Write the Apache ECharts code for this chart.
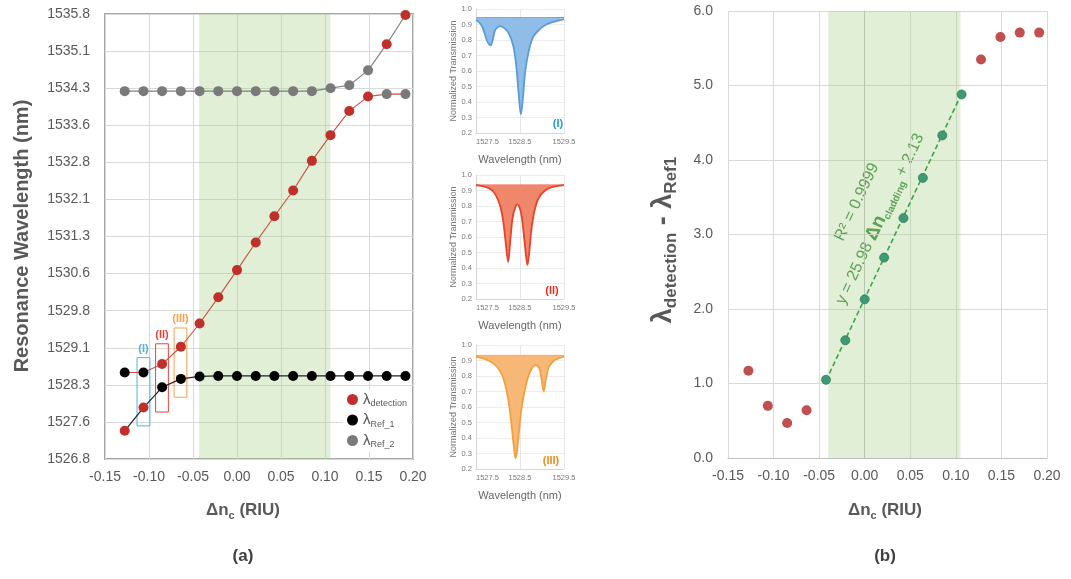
<!DOCTYPE html>
<html>
<head>
<meta charset="utf-8">
<script src="https://cdn.jsdelivr.net/npm/echarts@6/dist/echarts.min.js"></script>
<style>
html,body{margin:0;padding:0;background:#fff;}
#chart{width:1071px;height:579px;}
</style>
</head>
<body>
<div id="chart"></div>
<script>
// ---------- DATA ----------
const deltaN = [-0.1276, -0.1063, -0.0851, -0.0638, -0.0425, -0.0213, 0.0000, 0.0213,
                0.0425, 0.0638, 0.0851, 0.1063, 0.1276, 0.1489, 0.1701, 0.1914];
const lambdaDetection = [1527.37, 1527.84, 1528.72, 1529.07, 1529.54, 1530.07, 1530.62, 1531.18,
                         1531.71, 1532.23, 1532.83, 1533.35, 1533.84, 1534.13, 1535.19, 1535.78];
const lambdaRef1 = [1528.55, 1528.55, 1528.25, 1528.42, 1528.47, 1528.48, 1528.48, 1528.48,
                    1528.48, 1528.48, 1528.48, 1528.48, 1528.48, 1528.48, 1528.48, 1528.48];
const lambdaRef2 = [1534.24, 1534.24, 1534.24, 1534.24, 1534.24, 1534.24, 1534.24, 1534.24,
                    1534.24, 1534.24, 1534.24, 1534.30, 1534.36, 1534.66, 1534.18, 1534.18];
const yTickLabelsA = ['1526.8','1527.6','1528.3','1529.1','1529.8','1530.6','1531.3',
                      '1532.1','1532.8','1533.6','1534.3','1535.1','1535.8'];
const yBaseA = 1526.8, yStepA = 0.75;
const xTickLabels = ['-0.15','-0.10','-0.05','0.00','0.05','0.10','0.15','0.20'];
const greenBandA = [-0.043, 0.106];
const greenBandB = [-0.040, 0.105];
// (I),(II),(III) boxes: [xFrom, xTo, yFrom, yTo]
const boxI = [-0.1136, -0.0990, 1527.47, 1528.85];
const boxII = [-0.0925, -0.0780, 1527.75, 1529.13];
const boxIII = [-0.0715, -0.0570, 1528.05, 1529.45];

// panel (b)
const diffLambda = [1.17, 0.70, 0.47, 0.64, 1.05, 1.58, 2.13, 2.69,
                    3.22, 3.76, 4.33, 4.88, 5.35, 5.65, 5.71, 5.71];
const fitFirst = 4, fitLast = 11;
const fitLine = [[-0.0425, 1.04], [0.1063, 4.89]];
const yTickLabelsB = ['0.0','1.0','2.0','3.0','4.0','5.0','6.0'];

// spectra insets: [wavelength nm, normalized transmission]
const spectrumI = [[1527.5,0.930],[1527.6,0.905],[1527.65,0.88],[1527.7,0.84],[1527.75,0.795],
  [1527.8,0.772],[1527.83,0.765],[1527.87,0.79],[1527.93,0.86],[1528.0,0.885],[1528.05,0.89],
  [1528.15,0.875],[1528.25,0.84],[1528.35,0.76],[1528.42,0.62],[1528.47,0.45],[1528.52,0.32],
  [1528.57,0.44],[1528.62,0.60],[1528.7,0.73],[1528.8,0.82],[1528.95,0.87],[1529.1,0.90],
  [1529.3,0.92],[1529.5,0.935]];
const spectrumII = [[1527.5,0.935],[1527.7,0.925],[1527.85,0.905],[1527.95,0.87],[1528.05,0.80],
  [1528.12,0.70],[1528.18,0.55],[1528.23,0.44],[1528.28,0.58],[1528.33,0.72],[1528.39,0.79],
  [1528.44,0.81],[1528.49,0.79],[1528.54,0.73],[1528.6,0.58],[1528.64,0.47],[1528.67,0.42],
  [1528.71,0.50],[1528.76,0.65],[1528.83,0.77],[1528.92,0.85],[1529.05,0.895],[1529.2,0.92],
  [1529.5,0.935]];
const spectrumIII = [[1527.5,0.925],[1527.7,0.91],[1527.9,0.88],[1528.05,0.83],[1528.15,0.76],
  [1528.25,0.62],[1528.32,0.45],[1528.37,0.32],[1528.40,0.27],[1528.43,0.31],[1528.48,0.45],
  [1528.55,0.62],[1528.65,0.76],[1528.75,0.84],[1528.86,0.87],[1528.94,0.85],[1528.99,0.78],
  [1529.04,0.70],[1529.09,0.78],[1529.16,0.86],[1529.3,0.905],[1529.5,0.925]];
const spectrumTop = [0.945, 0.935, 0.933];
const insetXBase = 1527.5;
const insetXLabels = ['1527.5','1528.5','1529.5'];

// ---------- CHART ----------
const FONT = '"Liberation Sans", Arial, sans-serif';
const TXT = '#595959';
const chart = echarts.init(document.getElementById('chart'), null, {renderer:'canvas'});

const toA = v => +(v - yBaseA).toFixed(4);
function branch(i, k) {
  const s = [lambdaDetection[i], lambdaRef1[i], lambdaRef2[i]].slice().sort((a,b)=>a-b);
  return [deltaN[i], toA(s[k])];
}
const lowerBranch = deltaN.map((x,i)=>branch(i,0));
const midBranch = deltaN.map((x,i)=>branch(i,1));
const upperBranch = deltaN.map((x,i)=>branch(i,2));

function boxArea(b, name, color) {
  return [{name: name, coord:[b[0], toA(b[2])], itemStyle:{borderColor:color}, label:{color:color}},
          {coord:[b[1], toA(b[3])]}];
}

const xLabelFmt = v => { const i = Math.round((v + 0.15)/0.05); return xTickLabels[i] || ''; };

const insetColors = [
  {line:'#5b9bd5', fill:'#8fbde7', lab:'#1f9bd7'},
  {line:'#e8432b', fill:'#f0876b', lab:'#e0301e'},
  {line:'#f4a040', fill:'#f7b877', lab:'#f08c1c'}
];
const spectra = [spectrumI, spectrumII, spectrumIII];
const insetTops = [9, 175, 345];

const grids = [
  {left:105, top:14, width:308, height:445},
];
insetTops.forEach(t => grids.push({left:476, top:t, width:88, height:124}));
grids.push({left:728, top:11, width:319, height:447});

const xAxes = [], yAxes = [];
// panel a
xAxes.push({gridIndex:0, type:'value', min:-0.15, max:0.20, interval:0.05,
  axisLine:{show:false}, axisTick:{show:false},
  splitLine:{show:true, lineStyle:{color:'#d9d9d9', width:1}},
  axisLabel:{formatter:xLabelFmt, color:TXT, fontSize:14, fontFamily:FONT, margin:11}});
yAxes.push({gridIndex:0, type:'value', min:0, max:9, interval:yStepA,
  axisLine:{show:false}, axisTick:{show:false},
  splitLine:{show:true, lineStyle:{color:'#d9d9d9', width:1}},
  axisLabel:{formatter:v=>yTickLabelsA[Math.round(v/yStepA)]||'', color:TXT, fontSize:14, fontFamily:FONT, margin:15}});
// insets
for (let k=0;k<3;k++){
  xAxes.push({gridIndex:k+1, type:'value', min:0, max:2, interval:1,
    name:'Wavelength (nm)', nameLocation:'middle', nameGap:21,
    nameTextStyle:{color:'#666', fontSize:11, fontFamily:FONT},
    axisLine:{show:true, lineStyle:{color:'#d6d6d6'}}, axisTick:{show:false},
    splitLine:{show:true, lineStyle:{color:'#e6e6e6'}},
    axisLabel:{formatter:v=>insetXLabels[Math.round(v)]||'', color:'#777', fontSize:7.5, fontFamily:FONT, margin:5,
      alignMinLabel:'left', alignMaxLabel:'center'}});
  yAxes.push({gridIndex:k+1, type:'value', min:0.2, max:1.0, interval:0.1,
    name:'Normalized Transmission', nameLocation:'middle', nameGap:18,
    nameTextStyle:{color:'#777', fontSize:9, fontFamily:FONT},
    axisLine:{show:true, lineStyle:{color:'#d6d6d6'}}, axisTick:{show:false},
    splitLine:{show:true, lineStyle:{color:'#ececec'}},
    axisLabel:{formatter:v=>v.toFixed(1), color:'#777', fontSize:7.5, fontFamily:FONT, margin:4}});
}
// panel b
xAxes.push({gridIndex:4, type:'value', min:-0.15, max:0.20, interval:0.05,
  axisLine:{show:true, lineStyle:{color:'#bfbfbf'}}, axisTick:{show:false},
  splitLine:{show:true, lineStyle:{color:'#d9d9d9'}},
  axisLabel:{formatter:xLabelFmt, color:TXT, fontSize:14, fontFamily:FONT, margin:11}});
yAxes.push({gridIndex:4, type:'value', min:0, max:6, interval:1,
  axisLine:{show:true, lineStyle:{color:'#bfbfbf'}}, axisTick:{show:false},
  splitLine:{show:true, lineStyle:{color:'#d9d9d9'}},
  axisLabel:{formatter:v=>yTickLabelsB[Math.round(v)]||'', color:TXT, fontSize:14, fontFamily:FONT, margin:15}});

const series = [];
// panel a lines
series.push({type:'line', xAxisIndex:0, yAxisIndex:0, data:lowerBranch, symbol:'none',
  lineStyle:{color:'#222', width:1.2}, z:2, silent:true,
  markArea:{silent:true, itemStyle:{color:'rgba(160,205,130,0.33)'},
    data:[[{xAxis:greenBandA[0]},{xAxis:greenBandA[1]}]]}});
series.push({type:'line', xAxisIndex:0, yAxisIndex:0, data:midBranch, symbol:'none',
  lineStyle:{color:'#c8503f', width:1.1}, z:2, silent:true});
series.push({type:'line', xAxisIndex:0, yAxisIndex:0, data:upperBranch, symbol:'none',
  lineStyle:{color:'#7f7f7f', width:1.1}, z:2, silent:true});
series.push({name:'det', type:'scatter', xAxisIndex:0, yAxisIndex:0, symbolSize:10, z:5,
  itemStyle:{color:'#c0302a', opacity:1},
  data:deltaN.map((x,i)=>[x, toA(lambdaDetection[i])]),
  markArea:{silent:true, itemStyle:{color:'rgba(0,0,0,0)', borderWidth:1},
    label:{show:true, position:'top', fontSize:11, fontWeight:'bold', fontFamily:FONT, distance:3},
    data:[boxArea(boxI,'(I)','#4fb3e3'), boxArea(boxII,'(II)','#e8433a'), boxArea(boxIII,'(III)','#f5a04a')]}});
series.push({name:'ref1', type:'scatter', xAxisIndex:0, yAxisIndex:0, symbolSize:10, z:5,
  itemStyle:{color:'#000', opacity:1},
  data:deltaN.map((x,i)=>[x, toA(lambdaRef1[i])])});
series.push({name:'ref2', type:'scatter', xAxisIndex:0, yAxisIndex:0, symbolSize:10, z:5,
  itemStyle:{color:'#7a7a7a', opacity:1},
  data:deltaN.map((x,i)=>[x, toA(lambdaRef2[i])])});

// insets
for (let k=0;k<3;k++){
  const sp = spectra[k], c = insetColors[k], top = spectrumTop[k];
  series.push({type:'line', xAxisIndex:k+1, yAxisIndex:k+1, symbol:'none', smooth:0.35,
    data: sp.map(p=>[+(p[0]-insetXBase).toFixed(3), p[1]]),
    lineStyle:{color:c.line, width:1.8}, areaStyle:{color:c.fill, opacity:1, origin:top}, z:4, silent:true});
  series.push({type:'line', xAxisIndex:k+1, yAxisIndex:k+1, symbol:'none',
    data: [[0, top], [2, top]], lineStyle:{color:c.line, width:1}, z:3, silent:true});
}

// panel b
series.push({type:'line', xAxisIndex:4, yAxisIndex:4, data:fitLine, symbol:'none',
  lineStyle:{color:'#3aa648', width:1.6, type:[5,3]}, z:3, silent:true,
  markArea:{silent:true, itemStyle:{color:'rgba(160,205,130,0.33)'},
    data:[[{xAxis:greenBandB[0]},{xAxis:greenBandB[1]}]]}});
series.push({type:'scatter', xAxisIndex:4, yAxisIndex:4, symbolSize:10, z:5,
  itemStyle:{color:'#c0504d', opacity:1},
  data:deltaN.map((x,i)=>[x,diffLambda[i],i]).filter(d=>d[2]<fitFirst||d[2]>fitLast).map(d=>[d[0],d[1]])});
series.push({type:'scatter', xAxisIndex:4, yAxisIndex:4, symbolSize:9, z:5,
  itemStyle:{color:'#3d9a72', borderColor:'#2f7d5a', borderWidth:0.8, opacity:1},
  data:deltaN.map((x,i)=>[x,diffLambda[i],i]).filter(d=>d[2]>=fitFirst&&d[2]<=fitLast).map(d=>[d[0],d[1]])});

const legendNames = {det:'{l|λ}{s|detection}', ref1:'{l|λ}{s|Ref_1}', ref2:'{l|λ}{s|Ref_2}'};

const graphics = [
  {type:'text', x:22, y:236, rotation:Math.PI/2,
    style:{text:'Resonance Wavelength (nm)', font:'bold 20px '+FONT, fill:TXT, align:'center', verticalAlign:'middle'}},
  {type:'text', x:243, y:510,
    style:{text:'{a|Δn}{s|c}{a| (RIU)}', fill:TXT, align:'center', verticalAlign:'middle',
      rich:{a:{font:'bold 17px '+FONT, fill:TXT, lineHeight:22}, s:{font:'bold 11px '+FONT, fill:TXT, verticalAlign:'bottom', lineHeight:14}}}},
  {type:'text', x:243, y:556,
    style:{text:'(a)', font:'bold 17px '+FONT, fill:'#404040', align:'center', verticalAlign:'middle'}},
  {type:'text', x:885, y:510,
    style:{text:'{a|Δn}{s|c}{a| (RIU)}', fill:TXT, align:'center', verticalAlign:'middle',
      rich:{a:{font:'bold 17px '+FONT, fill:TXT, lineHeight:22}, s:{font:'bold 11px '+FONT, fill:TXT, verticalAlign:'bottom', lineHeight:14}}}},
  {type:'text', x:885, y:556,
    style:{text:'(b)', font:'bold 17px '+FONT, fill:'#404040', align:'center', verticalAlign:'middle'}},
  {type:'text', x:664, y:240, rotation:Math.PI/2,
    style:{text:'{l|λ}{s|detection}{l| - λ}{s|Ref1}', fill:TXT, align:'center', verticalAlign:'middle',
      rich:{l:{font:'bold 27px '+FONT, fill:TXT, lineHeight:32}, s:{font:'bold 17px '+FONT, fill:TXT, verticalAlign:'bottom', lineHeight:24}}}},
  {type:'text', x:558, y:124,
    style:{text:'(I)', font:'bold 11px '+FONT, fill:insetColors[0].lab, align:'center', verticalAlign:'middle'}},
  {type:'text', x:552, y:291,
    style:{text:'(II)', font:'bold 11px '+FONT, fill:insetColors[1].lab, align:'center', verticalAlign:'middle'}},
  {type:'text', x:551, y:461,
    style:{text:'(III)', font:'bold 11px '+FONT, fill:insetColors[2].lab, align:'center', verticalAlign:'middle'}},
  {type:'text', x:857, y:202, rotation:1.13,
    style:{text:'R² = 0.9999', font:'16px '+FONT, fill:'#3c8c3c', align:'center', verticalAlign:'middle'}},
  {type:'text', x:880, y:219, rotation:1.13,
    style:{text:'{a|y = 25.98 }{b|Δn}{s|cladding}{a| + 2.13}', fill:'#3c8c3c', align:'center', verticalAlign:'middle',
      rich:{a:{font:'16px '+FONT, fill:'#3c8c3c', lineHeight:22}, b:{font:'bold 19px '+FONT, fill:'#3c8c3c', lineHeight:22},
            s:{font:'bold 10px '+FONT, fill:'#3c8c3c', verticalAlign:'bottom', lineHeight:15}}}}
];

chart.setOption({
  animation:false,
  backgroundColor:'#fff',
  grid: grids.map((g,i)=> i===0 ? Object.assign({show:true, borderColor:'#a6a6a6', borderWidth:2, backgroundColor:'transparent'}, g) : g),
  xAxis:xAxes, yAxis:yAxes,
  legend:{data:['det','ref1','ref2'], orient:'vertical', left:343, top:390, itemWidth:11, itemHeight:11,
    itemGap:4, icon:'circle', backgroundColor:'#fff', padding:[2,4,2,4],
    formatter:n=>legendNames[n],
    textStyle:{color:TXT, fontFamily:FONT, rich:{l:{fontSize:15, color:TXT, fontFamily:FONT, lineHeight:18}, s:{fontSize:9, color:TXT, fontFamily:FONT, verticalAlign:'bottom', lineHeight:12}}}},
  series:series,
  graphic:graphics
});
</script>
</body>
</html>
